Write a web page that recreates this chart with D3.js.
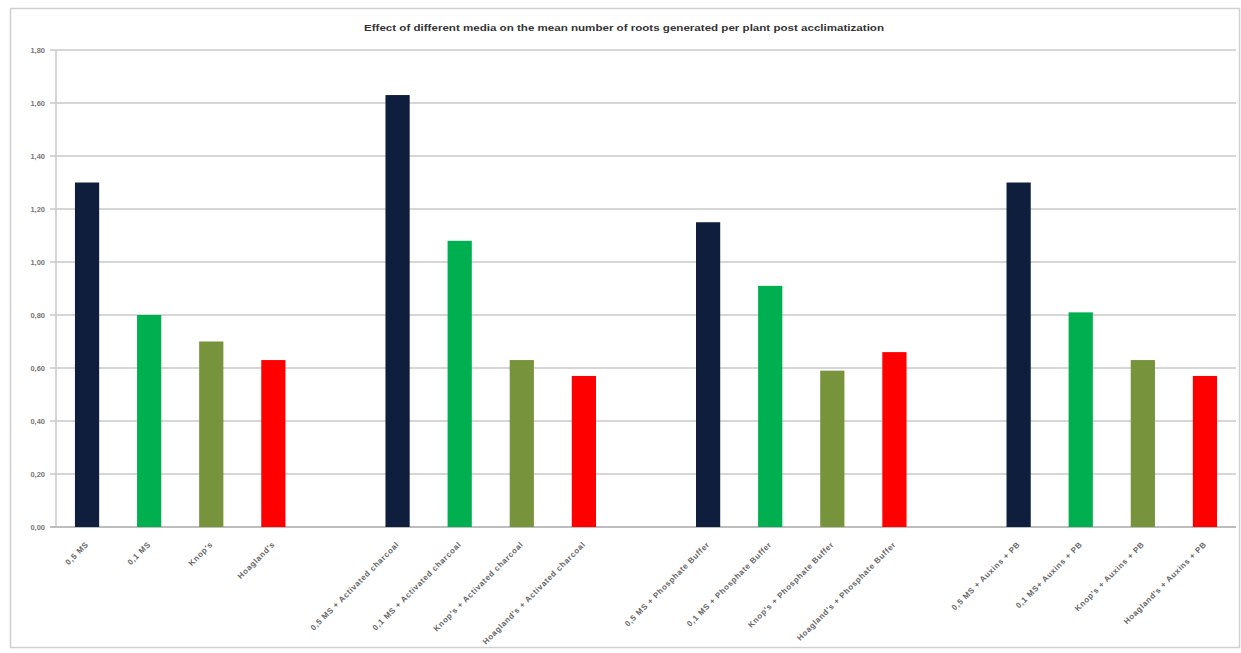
<!DOCTYPE html>
<html>
<head>
<meta charset="utf-8">
<script src="https://cdn.jsdelivr.net/npm/d3@7"></script>
<style>
  html, body { margin: 0; padding: 0; background: #fff; }
  svg { display: block; font-family: "Liberation Sans", Arial, sans-serif; }
</style>
</head>
<body>
<svg id="chart" width="1241" height="653"></svg>
<script>
const title = "Effect  of different media on  the mean number of roots generated per plant post acclimatization";
const categories = [
  "0,5 MS", "0,1 MS", "Knop's", "Hoagland's", "",
  "0,5 MS + Activated charcoal", "0,1 MS + Activated charcoal", "Knop's + Activated charcoal", "Hoagland's + Activated charcoal", "",
  "0,5 MS + Phosphate Buffer", "0,1 MS + Phosphate Buffer", "Knop's + Phosphate Buffer", "Hoagland's + Phosphate Buffer", "",
  "0,5 MS + Auxins + PB", "0,1 MS+ Auxins + PB", "Knop's + Auxins + PB", "Hoagland's + Auxins + PB"
];
const values = [
  1.30, 0.80, 0.70, 0.63, null,
  1.63, 1.08, 0.63, 0.57, null,
  1.15, 0.91, 0.59, 0.66, null,
  1.30, 0.81, 0.63, 0.57
];
const mediumIndex = [0, 1, 2, 3, null, 0, 1, 2, 3, null, 0, 1, 2, 3, null, 0, 1, 2, 3];
const mediumColors = ["#0e1e3c", "#00b050", "#77933c", "#ff0000"];
const yTicks = [0, 0.2, 0.4, 0.6, 0.8, 1.0, 1.2, 1.4, 1.6, 1.8];

const svg = d3.select("#chart");
const W = 1241, H = 653;
const plot = { left: 56, right: 1236, top: 50, bottom: 527 };

// outer frame
svg.append("rect").attr("x", 10.5).attr("y", 8.5).attr("width", W - 12).attr("height", H - 14)
  .attr("fill", "#fff").attr("stroke", "#d0d0d0").attr("stroke-width", 1.5);

svg.append("text").attr("x", 624).attr("y", 31).attr("text-anchor", "middle")
  .attr("font-size", 9.5).attr("font-weight", "bold").attr("fill", "#333")
  .attr("textLength", 520).attr("lengthAdjust", "spacingAndGlyphs").text(title);

const keys = categories.map((c, i) => "k" + i);
const x = d3.scaleBand().domain(keys).range([plot.left, plot.right]).paddingInner(0.61).paddingOuter(0.305);
const y = d3.scaleLinear().domain([0, 1.8]).range([plot.bottom, plot.top]);

// gridlines
svg.append("g").selectAll("line").data(yTicks).join("line")
  .attr("x1", plot.left - 6).attr("x2", plot.right)
  .attr("y1", d => y(d)).attr("y2", d => y(d))
  .attr("stroke", d => d === 0 ? "#bdbdbd" : "#d6d6d6").attr("stroke-width", 2);

// y axis line
svg.append("line").attr("x1", plot.left).attr("x2", plot.left).attr("y1", plot.top).attr("y2", plot.bottom)
  .attr("stroke", "#c8c8c8").attr("stroke-width", 1.5);

// y labels
svg.append("g").selectAll("text").data(yTicks).join("text")
  .attr("x", 45).attr("y", d => y(d) + 3).attr("text-anchor", "end")
  .attr("font-size", 7.5).attr("font-weight", "bold").attr("fill", "#777")
  .text(d => d3.format(".2f")(d).replace(".", ","));

// bars
const data = keys.map((k, i) => ({ k, v: values[i], m: mediumIndex[i], label: categories[i] }));
svg.append("g").selectAll("rect").data(data.filter(d => d.v !== null)).join("rect")
  .attr("x", d => x(d.k)).attr("width", x.bandwidth())
  .attr("y", d => y(d.v)).attr("height", d => y(0) - y(d.v))
  .attr("fill", d => mediumColors[d.m]);

// x labels
svg.append("g").selectAll("text").data(data.filter(d => d.label)).join("text")
  .attr("transform", d => `translate(${x(d.k) + x.bandwidth() / 2 + 2},${plot.bottom + 18}) rotate(-45)`)
  .attr("text-anchor", "end").attr("font-size", 8).attr("font-weight", "bold").attr("fill", "#666")
  .attr("letter-spacing", 0.6)
  .text(d => d.label);
</script>
</body>
</html>
